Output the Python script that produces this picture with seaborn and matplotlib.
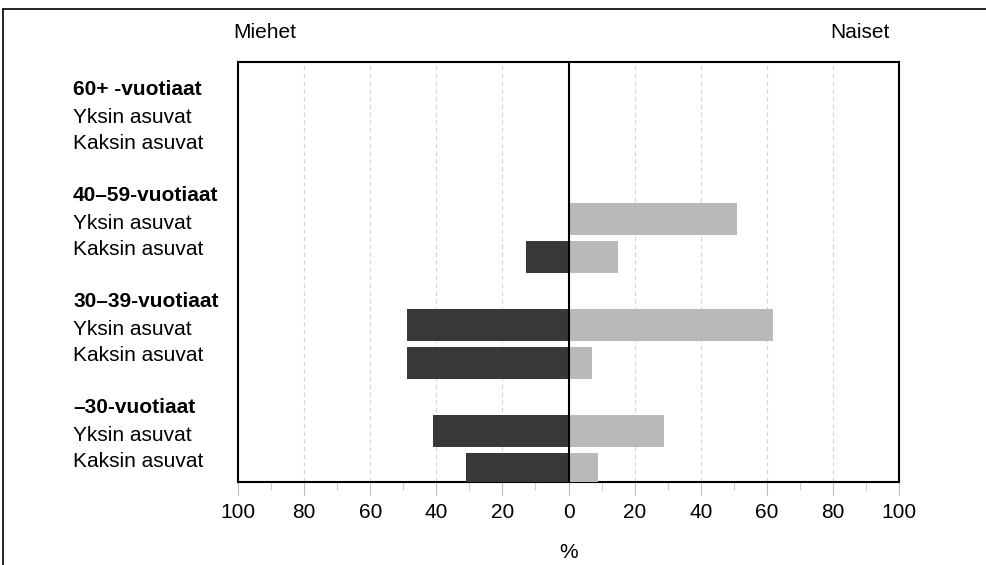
import numpy as np
import pandas as pd
import seaborn as sns
import matplotlib
matplotlib.use("Agg")
import matplotlib.pyplot as plt
from matplotlib.lines import Line2D
from matplotlib.transforms import blended_transform_factory

# ---- data ----
groups = ["60+ -vuotiaat", "40–59-vuotiaat", "30–39-vuotiaat", "–30-vuotiaat"]
rows = ["Yksin asuvat", "Kaksin asuvat"]
# values per group, [Yksin, Kaksin]; NaN = no bar
men = [[np.nan, np.nan], [np.nan, 13], [49, 49], [41, 31]]
women = [[np.nan, np.nan], [51, 15], [62, 7], [29, 9]]
xticks = [-100, -80, -60, -40, -20, 0, 20, 40, 60, 80, 100]
xticklabels = ["100", "80", "60", "40", "20", "0", "20", "40", "60", "80", "100"]

sns.set_theme(style="white")
plt.rcParams["font.family"] = ["Liberation Sans", "DejaVu Sans"]
plt.rcParams["text.color"] = "black"
plt.rcParams["xtick.color"] = "black"
plt.rcParams["axes.labelcolor"] = "black"
FS = 15

ROW_STEP = 0.355
recs = []
for g, grp in enumerate(groups):
    for r, row in enumerate(rows):
        pos = g + r * ROW_STEP
        recs.append(dict(pos=pos, value=-men[g][r], sex="Miehet"))
        recs.append(dict(pos=pos, value=women[g][r], sex="Naiset"))
df = pd.DataFrame(recs).dropna()

fig = plt.figure(figsize=(9.86, 5.65), dpi=100)
ax = fig.add_axes([238 / 986, 1 - 482 / 565, (899 - 238) / 986, (482 - 62) / 565])

sns.barplot(data=df, x="value", y="pos", hue="sex", orient="h", native_scale=True,
            dodge=False, width=0.85, palette={"Miehet": "#383838", "Naiset": "#b9b9b9"},
            linewidth=0, legend=False, ax=ax, zorder=3)

ax.set_xlim(-100, 100)
ax.set_ylim(3.48, -0.48)
ax.set_xticks(xticks)
ax.set_xticklabels(xticklabels, fontsize=FS, color="black")
ax.set_xticks(np.arange(-90, 100, 20), minor=True)
ax.tick_params(axis="x", which="major", direction="out", length=9, width=0.8,
               color="#bbbbbb", pad=6, bottom=True, labelcolor="black")
ax.tick_params(axis="x", which="minor", direction="out", length=6, width=0.8,
               color="#cccccc", bottom=True)
ax.set_yticks([])
ax.set_ylabel("")
ax.set_xlabel("%", fontsize=FS, labelpad=15, color="black")
for v in [-80, -60, -40, -20, 20, 40, 60, 80]:
    ax.axvline(v, color="#d4d4d4", lw=0.8, ls=(0, (4, 3)), zorder=1)
ax.axvline(0, color="black", lw=1.5, zorder=4)
for s in ax.spines.values():
    s.set_visible(True)
    s.set_color("black")
    s.set_linewidth(1.5)

tr = blended_transform_factory(fig.transFigure, ax.transData)
lx = 73 / 986
for g, grp in enumerate(groups):
    ax.text(lx, g - 0.22, grp, transform=tr, fontsize=FS, fontweight="bold",
            ha="left", va="center", color="black")
    ax.text(lx, g + 0.045, rows[0], transform=tr, fontsize=FS, ha="left", va="center",
            color="black")
    ax.text(lx, g + 0.29, rows[1], transform=tr, fontsize=FS, ha="left", va="center",
            color="black")

fig.text(233 / 986, 1 - 33 / 565, "Miehet", fontsize=FS, ha="left", va="center")
fig.text(890 / 986, 1 - 33 / 565, "Naiset", fontsize=FS, ha="right", va="center")

# outer frame (top and left edges visible)
fig.add_artist(Line2D([3 / 986, 1.0], [1 - 9 / 565, 1 - 9 / 565], color="black", lw=1.2,
                      transform=fig.transFigure))
fig.add_artist(Line2D([3 / 986, 3 / 986], [0.0, 1 - 9 / 565], color="black", lw=1.2,
                      transform=fig.transFigure))

fig.savefig("out.png", dpi=100)
